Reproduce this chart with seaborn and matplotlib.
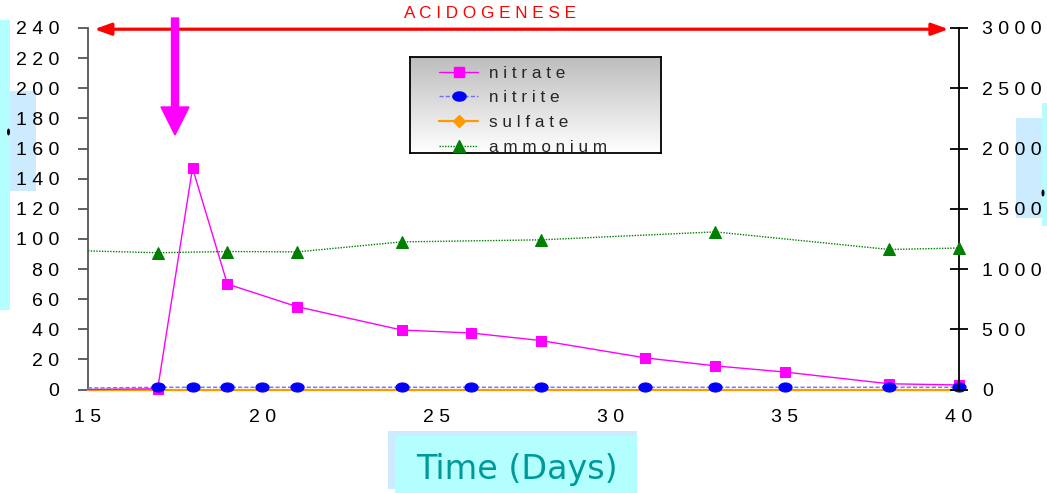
import numpy as np
import matplotlib
matplotlib.use("Agg")
import matplotlib.pyplot as plt
from matplotlib.patches import Rectangle, FancyArrow, Ellipse
from matplotlib.lines import Line2D
import seaborn as sns

# ---------------- data ----------------
nitrate_days = [15, 17, 18, 19, 21, 24, 26, 28, 31, 33, 35, 38, 40]
nitrate_vals = [0, 0.5, 147, 70, 55, 39.5, 37.5, 32.5, 21, 15.7, 11.6, 3.8, 3.0]

nitrite_days = [15, 17, 18, 19, 20, 21, 24, 26, 28, 31, 33, 35, 38, 40]
nitrite_vals = [1.0, 1.5, 1.5, 1.5, 1.5, 1.5, 1.5, 1.5, 1.5, 1.5, 1.5, 1.5, 1.5, 1.5]

sulfate_days = [15, 17, 18, 19, 20, 21, 24, 26, 28, 31, 33, 35, 38, 40]
sulfate_vals = [0, 0, 0, 0, 0, 0, 0, 0, 0, 0, 0, 0, 0, 0]

ammonium_days = [15, 17, 19, 21, 24, 28, 33, 38, 40]
ammonium_vals = [1150, 1135, 1145, 1142, 1225, 1242, 1308, 1162, 1174]

x_ticks = [15, 20, 25, 30, 35, 40]
x_labels = ["1 5", "2 0", "2 5", "3 0", "3 5", "4 0"]
left_ticks = [0, 20, 40, 60, 80, 100, 120, 140, 160, 180, 200, 220, 240]
left_labels = ["0", "2 0", "4 0", "6 0", "8 0", "1 0 0", "1 2 0", "1 4 0",
               "1 6 0", "1 8 0", "2 0 0", "2 2 0", "2 4 0"]
right_ticks = [0, 500, 1000, 1500, 2000, 2500, 3000]
right_labels = ["0", "5 0 0", "1 0 0 0", "1 5 0 0", "2 0 0 0", "2 5 0 0", "3 0 0 0"]

series_names = ["n i t r a t e", "n i t r i t e", "s u l f a t e", "a m m o n i u m"]
title_text = "A C I D O G E N E S E"
xlabel_text = "Time (Days)"

# ---------------- style ----------------
sns.set_style("white")
plt.rcParams["font.family"] = ["Liberation Sans", "DejaVu Sans"]

W, H = 1047, 493
fig = plt.figure(figsize=(W / 100, H / 100), dpi=100)
fig.patch.set_facecolor("white")

def px_rect(x0, y0, x1, y1):
    return [x0 / W, 1 - y1 / H, (x1 - x0) / W, (y1 - y0) / H]

ax = fig.add_axes(px_rect(88, 28, 959, 389.5))
ax2 = ax.twinx()

c_nitrate = "#FF00FF"
c_nitrite = "#0000FF"
c_sulfate = "#FF9900"
c_amm = "#008000"

t = np.linspace(0, 2 * np.pi, 40)
ellipse_marker = np.column_stack([1.45 * np.cos(t), np.sin(t)])

# sulfate
sns.lineplot(x=sulfate_days, y=sulfate_vals, ax=ax, color=c_sulfate, lw=1.6,
             errorbar=None, zorder=2.6, clip_on=False)
# nitrate
sns.lineplot(x=nitrate_days, y=nitrate_vals, ax=ax, color=c_nitrate, lw=1.0,
             marker="s", markersize=7.5, markeredgecolor=c_nitrate,
             markerfacecolor=c_nitrate, markevery=list(range(1, len(nitrate_days))),
             errorbar=None, zorder=3, clip_on=False)
# nitrite
sns.lineplot(x=nitrite_days, y=nitrite_vals, ax=ax, color="#7070FF", lw=1.0,
             linestyle=(0, (3, 1.5)), marker=ellipse_marker, markersize=9.5,
             markeredgecolor=c_nitrite, markerfacecolor=c_nitrite,
             markevery=list(range(1, len(nitrite_days))), errorbar=None, zorder=4,
             clip_on=False)
# ammonium on right axis
sns.lineplot(x=ammonium_days, y=ammonium_vals, ax=ax2, color=c_amm, lw=1.0,
             linestyle=(0, (1, 1)), marker="^", markersize=9,
             markeredgecolor=c_amm, markerfacecolor=c_amm,
             markevery=list(range(1, len(ammonium_days))), errorbar=None, zorder=3,
             clip_on=False)

for a in (ax, ax2):
    a.set_xlabel("")
    a.set_ylabel("")
    a.grid(False)
    a.set_facecolor("none")
ax.set_facecolor("white")
ax.set_zorder(0)
ax2.set_zorder(0.5)

ax.set_xlim(15, 40)
ax.set_ylim(0, 240)
ax2.set_ylim(0, 3000)

ax.set_xticks(x_ticks, x_labels)
ax.set_yticks(left_ticks, left_labels)
ax2.set_yticks(right_ticks, right_labels)

ax.spines["top"].set_visible(False)
ax2.spines["top"].set_visible(False)
ax.spines["right"].set_visible(False)
ax2.spines["left"].set_visible(False)
ax2.spines["bottom"].set_visible(False)
ax.spines["left"].set_color("#555555")
ax.spines["bottom"].set_color("#888888")
ax2.spines["right"].set_color("black")
for s in ("left", "bottom"):
    ax.spines[s].set_linewidth(1.3)
    ax.spines[s].set_zorder(1)
ax2.spines["right"].set_linewidth(1.3)

ax.tick_params(axis="y", direction="out", length=7.2, width=1.3, color="#555555",
               labelsize=14, pad=13.5, labelcolor="black")
ax.tick_params(axis="x", direction="out", length=5, width=1.3, color="#777777",
               labelsize=14, pad=9, labelcolor="black")
ax2.tick_params(axis="y", direction="inout", length=13, width=1.3, color="black",
                labelsize=14, pad=10, labelcolor="black")

# red double arrow
ax.annotate("", xy=(15.18, 239.2), xytext=(39.7, 239.2), xycoords="data",
            arrowprops=dict(arrowstyle="<|-|>,head_length=0.5,head_width=0.18",
                            color="red", lw=2.3, shrinkA=0, shrinkB=0,
                            mutation_scale=20), annotation_clip=False)
fig.text(490 / W, 1 - 13 / H, title_text, color="red", fontsize=12.3,
         ha="center", va="center")

# magenta arrow (inches)
fig.patches.append(FancyArrow(1.75, (H - 18) / 100, 0, -1.17, width=0.07,
                              head_width=0.28, head_length=0.28,
                              length_includes_head=True, color="#FF00FF",
                              transform=fig.dpi_scale_trans, figure=fig, zorder=6))

def add_rect(x0, y0, x1, y1, color, z=-1):
    r = Rectangle((x0 / W, 1 - y1 / H), (x1 - x0) / W, (y1 - y0) / H,
                  transform=fig.transFigure, facecolor=color, edgecolor="none",
                  zorder=z, figure=fig)
    fig.patches.append(r)

cyan = "#B3FFFF"
lblue = "#CCEBFF"
add_rect(0, 20, 10, 310, cyan)
add_rect(10, 91, 36, 191, lblue)
add_rect(1016, 118, 1047, 218, lblue)
add_rect(1042, 103, 1047, 226, cyan, z=-0.9)
add_rect(388, 431, 637, 489, lblue)
add_rect(395, 436, 637, 493, cyan, z=-0.9)
for (ex, ey) in [(8.5, 132), (1043, 193)]:
    fig.patches.append(Ellipse((ex / W, 1 - ey / H), 3 / W, 7 / H,
                               transform=fig.transFigure, facecolor="black",
                               edgecolor="none", zorder=-0.5, figure=fig))

fig.text(517 / W, 1 - 469 / H, xlabel_text, color="#009999", fontsize=24,
         ha="center", va="center", family=["DejaVu Sans"])

# legend with gradient background
gax = fig.add_axes(px_rect(410, 57, 661, 153))
gax.set_zorder(1)
grad = np.linspace(0, 1, 256).reshape(-1, 1)
gax.imshow(grad, aspect="auto", cmap=matplotlib.colors.LinearSegmentedColormap.from_list(
    "g", ["#BDBDBD", "#FFFFFF"]), extent=(0, 1, 0, 1))
gax.set_xticks([])
gax.set_yticks([])
for s in gax.spines.values():
    s.set_color("black")
    s.set_linewidth(1.3)
    s.set_visible(True)

handles = [
    Line2D([], [], color=c_nitrate, lw=1.0, marker="s", markersize=7.5,
           markerfacecolor=c_nitrate, markeredgecolor=c_nitrate),
    Line2D([], [], color="#7070FF", lw=1.0, linestyle=(0, (3, 1.5)),
           marker=ellipse_marker, markersize=9.5, markerfacecolor=c_nitrite,
           markeredgecolor=c_nitrite),
    Line2D([], [], color=c_sulfate, lw=1.6, marker="D", markersize=6,
           markerfacecolor=c_sulfate, markeredgecolor=c_sulfate),
    Line2D([], [], color=c_amm, lw=1.0, linestyle=(0, (1, 1)), marker="^",
           markersize=9, markerfacecolor=c_amm, markeredgecolor=c_amm),
]
leg = fig.legend(handles, series_names, loc="upper left",
                 bbox_to_anchor=(439 / W, 1 - 65.5 / H), borderaxespad=0,
                 borderpad=0, frameon=False, fontsize=12.3, handlelength=2.3,
                 handletextpad=0.6, labelspacing=0.58)
leg.set_zorder(5)

fig.savefig("out.png", dpi=100, facecolor="white")
